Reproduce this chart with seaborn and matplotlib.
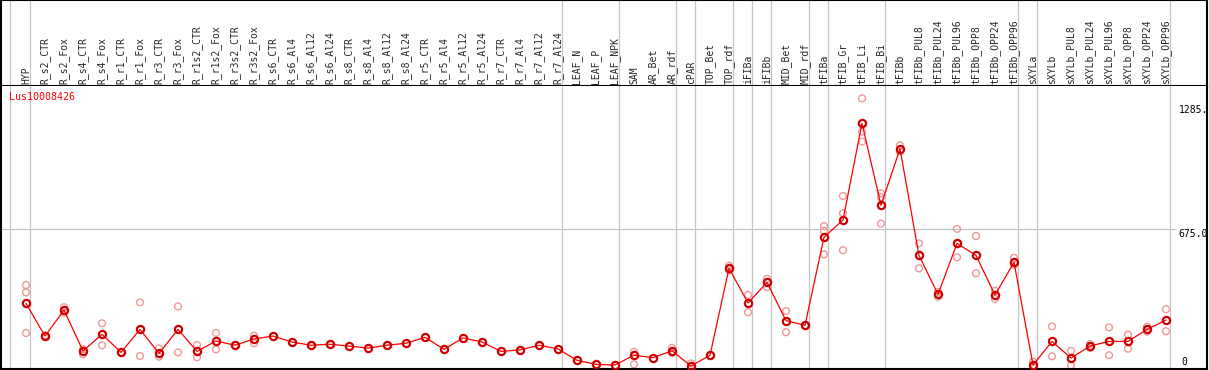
import numpy as np
import pandas as pd
import matplotlib
matplotlib.use("Agg")
import matplotlib.pyplot as plt
import seaborn as sns
from matplotlib.transforms import blended_transform_factory

# ---------------- data ----------------
samples = ["HYP", "R_s2_CTR", "R_s2_Fox", "R_s4_CTR", "R_s4_Fox", "R_r1_CTR", "R_r1_Fox",
           "R_r3_CTR", "R_r3_Fox", "R_r1s2_CTR", "R_r1s2_Fox", "R_r3s2_CTR", "R_r3s2_Fox",
           "R_s6_CTR", "R_s6_Al4", "R_s6_Al12", "R_s6_Al24", "R_s8_CTR", "R_s8_Al4",
           "R_s8_Al12", "R_s8_Al24", "R_r5_CTR", "R_r5_Al4", "R_r5_Al12", "R_r5_Al24",
           "R_r7_CTR", "R_r7_Al4", "R_r7_Al12", "R_r7_Al24", "LEAF_N", "LEAF_P", "LEAF_NPK",
           "SAM", "AR_Bet", "AR_rdf", "cPAR", "TOP_Bet", "TOP_rdf", "iFIBa", "iFIBb",
           "MID_Bet", "MID_rdf", "tFIBa", "tFIB_Gr", "tFIB_Li", "tFIB_Bi", "tFIBb",
           "tFIBb_PUL8", "tFIBb_PUL24", "tFIBb_PUL96", "tFIBb_OPP8", "tFIBb_OPP24",
           "tFIBb_OPP96", "sXYLa", "sXYLb", "sXYLb_PUL8", "sXYLb_PUL24", "sXYLb_PUL96",
           "sXYLb_OPP8", "sXYLb_OPP24", "sXYLb_OPP96"]

means = [308, 147, 275, 74, 156, 67, 180, 62, 180, 72, 123, 102, 133,
         147, 118, 102, 107, 98, 88, 102, 112, 141, 82, 138, 118, 72, 79, 102, 84,
         28, 8, 5, 53, 41, 75, 0, 53, 480, 310, 411, 223, 200,
         633, 718, 1193, 790, 1068, 544, 352, 603, 544, 349, 510,
         5, 121, 39, 98, 121, 121, 180, 226]

nan = np.nan
rep_a = [398, 145, 289, 82, 210, 67, 313, 87, 293, 103, 162, 102, 149,
         nan, nan, nan, nan, nan, nan, nan, nan, nan, nan, nan, nan, nan, nan, nan, nan,
         nan, nan, nan, 70, nan, 90, 13, nan, 493, 349, 429, 270, 200,
         688, 836, 1316, 849, 1085, 603, 364, 674, 639, 370, 532,
         21, 195, 74, 108, 190, 154, 193, 279]
rep_b = [362, 150, 262, 58, 102, 67, 49, 46, 67, 43, 82, 102, 112,
         nan, nan, nan, nan, nan, nan, nan, nan, nan, nan, nan, nan, nan, nan, nan, nan,
         nan, nan, nan, 8, nan, 65, 0, nan, 470, 264, 388, 166, 200,
         665, 751, 1152, 829, 1054, 480, 340, 534, 456, 330, 497,
         0, 48, 3, 88, 53, 85, 169, 171]
rep_c = [162, nan, nan, nan, nan, nan, nan, nan, nan, nan, nan, nan, nan,
         nan, nan, nan, nan, nan, nan, nan, nan, nan, nan, nan, nan, nan, nan, nan, nan,
         nan, nan, nan, nan, nan, nan, nan, nan, nan, nan, nan, nan, nan,
         549, 569, 1103, 700, nan, nan, nan, nan, nan, nan, nan,
         nan, nan, nan, nan, nan, nan, nan, nan]

group_sizes = [1, 28, 3, 3, 1, 2, 1, 1, 2, 1, 3, 7, 1, 7]
y_ticks = [0, 675.0, 1285.0]
y_tick_labels = ["0", "675.0", "1285."]
gene = "Lus10008426"

# ---------------- style ----------------
sns.set_style("white")
plt.rcParams["font.family"] = ["DejaVu Sans Mono", "DejaVu Sans"]

W, H = 1209, 370
fig = plt.figure(figsize=(W / 100, H / 100), dpi=100)
fig.patch.set_facecolor("white")

xlim = (-1.316, 62.158)
header = fig.add_axes([1 / W, 1 - 86 / H, 1206 / W, 86 / H])
ax = fig.add_axes([1 / W, 1 / H, 1206 / W, 283 / H])

idx = np.arange(len(samples))
df_mean = pd.DataFrame({"x": idx, "value": means})
df_rep = pd.DataFrame({
    "x": np.concatenate([idx, idx, idx]),
    "value": np.concatenate([rep_a, rep_b, rep_c]),
}).dropna()

grid_c = "#c4c4c4"
bounds = np.concatenate([[0], np.cumsum(group_sizes)])
for b in bounds:
    off = 0.16 if b == 0 else 0.23
    for a in (header, ax):
        a.axvline(b - 1 + off, color=grid_c, lw=0.9, zorder=1)

ax.axhline(675.0, xmin=0, xmax=0.9735, color=grid_c, lw=0.9, zorder=1)

sns.scatterplot(data=df_rep, x="x", y="value", ax=ax, marker="o", s=24,
                facecolor="none", edgecolor="#f09898", linewidth=1.0, zorder=2)
sns.lineplot(data=df_mean, x="x", y="value", ax=ax, color="red", lw=0.9,
             marker="o", markersize=5.2, markerfacecolor="none",
             markeredgecolor="#d00000", markeredgewidth=1.6, zorder=3)

ax.set_xlim(*xlim)
ax.set_ylim(-14.7, 1376.6)
header.set_xlim(*xlim)
header.set_ylim(0, 1)

ax.set_xticks(idx)
ax.set_xticklabels(samples, rotation=90, fontsize=7, family="DejaVu Sans Mono")
ax.xaxis.tick_top()
ax.tick_params(axis="x", length=0, pad=1.8, top=True, bottom=False,
               labeltop=True, labelbottom=False)
ax.set_yticks([])
ax.set_xlabel("")
ax.set_ylabel("")
header.set_xticks([])
header.set_yticks([])

# right-side value labels
tr = blended_transform_factory(ax.transAxes, ax.transData)
for v, lab in zip(y_ticks, y_tick_labels):
    if v == 0:
        ax.annotate(lab, xy=(0.9785, v), xycoords=tr, xytext=(0, 3),
                    textcoords="offset points", va="center", ha="left",
                    fontsize=7, color="black")
    else:
        ax.text(0.9765, v, lab, transform=tr, va="top", ha="left",
                fontsize=7, color="black", clip_on=True)

ax.annotate(gene, xy=(0, 1), xycoords="axes fraction", xytext=(6.1, -4.3),
            textcoords="offset points", va="top", ha="left", fontsize=7.2,
            color="red")

for a in (header, ax):
    a.set_facecolor("white")
    for s in a.spines.values():
        s.set_color("black")
        s.set_linewidth(1.5)
        s.set_visible(True)
ax.spines["top"].set_visible(False)

fig.savefig("out.png", dpi=100, facecolor="white")
